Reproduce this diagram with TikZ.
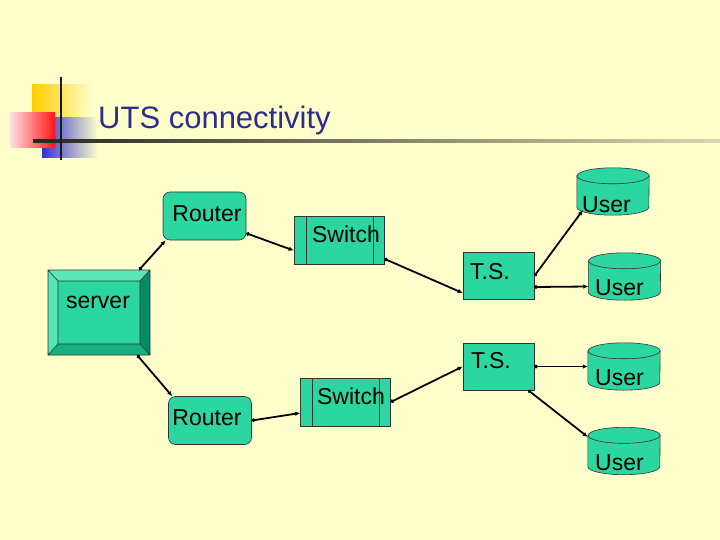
\documentclass[tikz,border=0pt]{standalone}
\usepackage{fontspec}
\setmainfont{Liberation Sans}
\usetikzlibrary{arrows.meta,calc}
\definecolor{bg}{RGB}{255,255,204}
\definecolor{teal1}{RGB}{44,214,160}
\definecolor{tealL}{RGB}{90,232,185}
\definecolor{tealD}{RGB}{0,140,100}
\definecolor{tealM}{RGB}{24,176,128}
\definecolor{titleblue}{RGB}{45,45,140}
\definecolor{decoyellow}{RGB}{255,204,0}
\definecolor{decored}{RGB}{255,20,20}
\definecolor{decoblue}{RGB}{51,51,204}
\tikzset{
  box/.style={draw=black!80, fill=teal1, line width=0.6pt, inner sep=0pt},
  routerbox/.style={box, rounded corners=7pt, minimum width=83pt, minimum height=48pt},
  switchbox/.style={box, minimum width=90pt, minimum height=48pt},
  tsbox/.style={box, minimum width=71pt, minimum height=47pt},
  userbox/.style={inner sep=0pt, minimum width=72pt, minimum height=47pt},
  cyl/.style={draw=black!80, fill=teal1, line width=0.6pt},
  txt/.style={inner sep=0pt, anchor=base, font=\fontsize{23}{27}\selectfont},
  conn/.style={line width=1.8pt, {Circle[length=3.5pt]}-{Latex[length=5pt,width=4.5pt]}},
}
\newcommand\drawcyl[1]{%
  \path[cyl] ($(#1.north west)+(0,-8)$) -- ($(#1.south west)+(0,8)$)
     arc[start angle=180,end angle=360,x radius=36pt,y radius=8pt]
     -- ($(#1.north east)+(0,-8)$)
     arc[start angle=0,end angle=180,x radius=36pt,y radius=8pt] -- cycle;
  \draw[draw=black!80, line width=0.6pt] ($(#1.north west)+(0,-8)$)
     arc[start angle=180,end angle=360,x radius=36pt,y radius=8pt];
}
\begin{document}
\begin{tikzpicture}[x=1pt,y=1pt]
\useasboundingbox (0,0) rectangle (720,-540);
\fill[bg] (0,0) rectangle (720,-540);
% title decoration
\shade[left color=decoyellow, right color=bg] (32,-85) rectangle (92,-135);
\shade[left color=decoblue, right color=bg] (42,-118) rectangle (98,-158);
\shade[left color=decored!12!white, right color=decored] (10,-113) rectangle (55,-148);
\shade[left color=black!85!bg, right color=black!15!bg] (33,-139.5) rectangle (720,-142.5);
\draw[black!90, line width=2pt] (61,-77) -- (61,-160);
\node[inner sep=0pt, anchor=base west, text=titleblue, font=\fontsize{31}{37}\selectfont] (title) at (98,-129) {UTS connectivity};
% server
\coordinate (so1) at (48,-270); \coordinate (so2) at (150,-270);
\coordinate (so3) at (150,-355); \coordinate (so4) at (48,-355);
\coordinate (si1) at (58,-281); \coordinate (si2) at (140,-281);
\coordinate (si3) at (140,-344); \coordinate (si4) at (58,-344);
\node[inner sep=0pt, minimum width=102pt, minimum height=85pt] (srv) at (99,-312.5) {};
\fill[tealL] (so1) -- (so2) -- (si2) -- (si1) -- cycle;
\fill[tealL!85!teal1] (so1) -- (si1) -- (si4) -- (so4) -- cycle;
\fill[tealD] (so2) -- (so3) -- (si3) -- (si2) -- cycle;
\fill[tealM] (so4) -- (si4) -- (si3) -- (so3) -- cycle;
\fill[teal1] (si1) rectangle (si3);
\draw[black!80, line width=0.6pt] (so1) rectangle (so3) (si1) rectangle (si3)
  (so1) -- (si1) (so2) -- (si2) (so3) -- (si3) (so4) -- (si4);
\node[txt] (srvt) at (98,-308) {server};
% routers
\node[routerbox] (r1) at (204.5,-216) {};
\node[txt] (r1t) at (207,-222) {Router};
\node[routerbox] (r2) at (210,-420.5) {};
\node[txt] (r2t) at (207,-425) {Router};
% switches
\node[switchbox] (sw1) at (339,-240.5) {};
\draw[black!80, line width=0.6pt] (306,-217) -- (306,-264) (373,-217) -- (373,-264);
\node[txt] (sw1t) at (346,-243) {Switch};
\node[switchbox] (sw2) at (345.5,-402) {};
\draw[black!80, line width=0.6pt] (312,-378) -- (312,-426) (379,-378) -- (379,-426);
\node[txt] (sw2t) at (351,-404) {Switch};
% terminal servers
\node[tsbox] (ts1) at (498.5,-276) {};
\node[txt] (ts1t) at (490,-279) {T.S.};
\node[tsbox] (ts2) at (498.5,-366.5) {};
\node[txt] (ts2t) at (491,-368) {T.S.};
% users
\node[userbox] (u1) at (613,-191.5) {};
\drawcyl{u1}
\node[txt] (u1t) at (606.5,-212) {User};
\node[userbox] (u2) at (624.5,-276.5) {};
\drawcyl{u2}
\node[txt] (u2t) at (619.5,-295) {User};
\node[userbox] (u3) at (624,-366.5) {};
\drawcyl{u3}
\node[txt] (u3t) at (619.5,-385) {User};
\node[userbox] (u4) at (624,-451) {};
\drawcyl{u4}
\node[txt] (u4t) at (619.5,-470) {User};
% connectors
\draw[conn] ([xshift=-11pt]srv.north east) -- ([xshift=3pt]r1.south west);
\draw[conn] ([xshift=-13pt]srv.south east) -- ([xshift=4pt]r2.north west);
\draw[conn] ([yshift=7pt]r1.south east) -- ([yshift=-10pt]sw1.west);
\draw[conn] ([yshift=6pt]sw1.south east) -- ([yshift=-17pt]ts1.west);
\draw[conn] (r2.east) -- ([yshift=-11pt]sw2.west);
\draw[conn] (sw2.east) -- (ts2.west);
\draw[conn] (ts1.east) -- ([xshift=6pt,yshift=5pt]u1.south west);
\draw[conn] ([yshift=-11pt]ts1.east) -- ([yshift=-10pt]u2.west);
\draw[conn] (ts2.east) -- (u3.west);
\draw[conn] ([xshift=-6pt]ts2.south east) -- ([yshift=14pt]u4.west);
\end{tikzpicture}
\end{document}
